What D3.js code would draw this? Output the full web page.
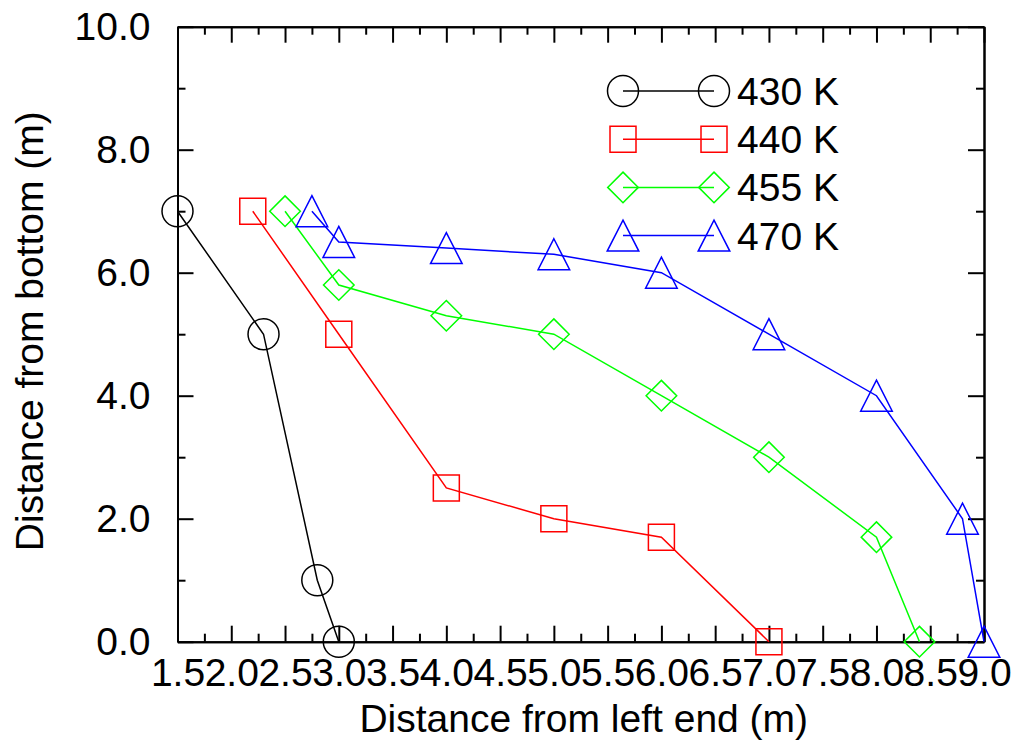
<!DOCTYPE html>
<html>
<head>
<meta charset="utf-8">
<script src="https://cdn.jsdelivr.net/npm/d3@7"></script>
<style>
body { margin: 0; background: #fff; }
text { font-family: "Liberation Sans", Arial, sans-serif; }
</style>
</head>
<body>
<div id="main"></div>
<script>
var ctx = {
    width: 1014,
    height: 745,
    left: 177.5,
    right: 984,
    top: 26.7,
    bottom: 641.7,
    fontSize: 39
};

// series values
var seriesNames = ["430 K", "440 K", "455 K", "470 K"];
var seriesColors = ["#000000", "#ff0000", "#00ff00", "#0000ff"];
var seriesShapes = ["circle", "square", "diamond", "triangle"];
var x430 = [1.5, 2.3, 2.8, 3.0];
var y430 = [7.0, 5.0, 1.0, 0.0];
var x440 = [2.2, 3.0, 4.0, 5.0, 6.0, 7.0];
var y440 = [7.0, 5.0, 2.5, 2.0, 1.7, 0.0];
var x455 = [2.5, 3.0, 4.0, 5.0, 6.0, 7.0, 8.0, 8.4];
var y455 = [7.0, 5.8, 5.3, 5.0, 4.0, 3.0, 1.7, 0.0];
var x470 = [2.75, 3.0, 4.0, 5.0, 6.0, 7.0, 8.0, 8.8, 9.0];
var y470 = [7.0, 6.5, 6.4, 6.3, 6.0, 5.0, 4.0, 2.0, 0.0];

// ticks
var xMajor = [1.5, 2.0, 2.5, 3.0, 3.5, 4.0, 4.5, 5.0, 5.5, 6.0, 6.5, 7.0, 7.5, 8.0, 8.5, 9.0];
var xMinor = [1.75, 2.25, 2.75, 3.25, 3.75, 4.25, 4.75, 5.25, 5.75, 6.25, 6.75, 7.25, 7.75, 8.25, 8.75];
var yMajor = [0, 2, 4, 6, 8, 10];
var yMinor = [1, 3, 5, 7, 9];

var xTitle = "Distance from left end (m)";
var yTitle = "Distance from bottom (m)";

var markerPath = function(shape){
    if (shape == "circle") {
        return "M15.5,0A15.5,15.5 0 1,1 -15.5,0A15.5,15.5 0 1,1 15.5,0Z";
    } else if (shape == "square") {
        return "M-13,-13H13V13H-13Z";
    } else if (shape == "diamond") {
        return "M0,-15.3L15.3,0L0,15.3L-15.3,0Z";
    }
    return "M0,-15.5L15.8,15.5L-15.8,15.5Z";
};

var createViz = function(){
    var svg = d3.select("#main").append("svg")
                .attr("width", ctx.width)
                .attr("height", ctx.height);

    var x = d3.scaleLinear().domain([1.5, 9.0]).range([ctx.left, ctx.right]);
    var y = d3.scaleLinear().domain([0, 10]).range([ctx.bottom, ctx.top]);

    var series = [
        d3.zip(x430, y430),
        d3.zip(x440, y440),
        d3.zip(x455, y455),
        d3.zip(x470, y470)
    ];

    // axes, ticks inside on all four sides
    var addAxis = function(axis, tx, ty, vals, size, labels){
        var g = svg.append("g")
                   .attr("transform", "translate(" + tx + "," + ty + ")")
                   .call(axis.tickValues(vals).tickSizeInner(-size).tickSizeOuter(0));
        g.selectAll("line").attr("stroke", "#000").attr("stroke-width", 2);
        g.select(".domain").attr("stroke", "#000").attr("stroke-width", 2);
        g.selectAll("text").attr("font-size", ctx.fontSize).attr("fill", "#000")
         .style("font-family", "'Liberation Sans', Arial, sans-serif");
        if (!labels) g.selectAll("text").remove();
        return g;
    };

    addAxis(d3.axisBottom(x).tickPadding(17).tickFormat(d3.format(".1f")), 0, ctx.bottom, xMajor, 16, true);
    addAxis(d3.axisBottom(x), 0, ctx.bottom, xMinor, 8, false);
    addAxis(d3.axisTop(x), 0, ctx.top, xMajor, 16, false);
    addAxis(d3.axisTop(x), 0, ctx.top, xMinor, 8, false);
    addAxis(d3.axisLeft(y).tickPadding(27).tickFormat(d3.format(".1f")), ctx.left, 0, yMajor, 16, true);
    addAxis(d3.axisLeft(y), ctx.left, 0, yMinor, 8, false);
    addAxis(d3.axisRight(y), ctx.right, 0, yMajor, 16, false);
    addAxis(d3.axisRight(y), ctx.right, 0, yMinor, 8, false);

    // axis titles
    svg.append("text")
       .attr("x", (ctx.left + ctx.right) / 2 + 3)
       .attr("y", 731.5)
       .attr("text-anchor", "middle")
       .attr("font-size", ctx.fontSize)
       .text(xTitle);
    svg.append("text")
       .attr("transform", "translate(42.7," + ((ctx.top + ctx.bottom) / 2 - 3) + ")rotate(-90)")
       .attr("text-anchor", "middle")
       .attr("font-size", ctx.fontSize)
       .text(yTitle);

    var line = d3.line()
                 .x(function(d){ return x(d[0]); })
                 .y(function(d){ return y(d[1]); });

    // lines + hollow markers
    series.forEach(function(pts, i){
        var g = svg.append("g");
        g.append("path")
         .attr("d", line(pts))
         .attr("fill", "none")
         .attr("stroke", seriesColors[i])
         .attr("stroke-width", 1.5);
        g.selectAll(".mark")
         .data(pts)
         .enter().append("path")
           .attr("class", "mark")
           .attr("transform", function(d){ return "translate(" + x(d[0]) + "," + y(d[1]) + ")"; })
           .attr("d", markerPath(seriesShapes[i]))
           .attr("fill", "none")
           .attr("stroke", seriesColors[i])
           .attr("stroke-width", 1.5);
    });

    // legend
    var legend = svg.append("g");
    seriesNames.forEach(function(name, i){
        var ly = 91 + i * 48.2;
        legend.append("line")
              .attr("x1", 623).attr("x2", 714)
              .attr("y1", ly).attr("y2", ly)
              .attr("stroke", seriesColors[i])
              .attr("stroke-width", 1.5);
        [623, 714].forEach(function(lx){
            legend.append("path")
                  .attr("transform", "translate(" + lx + "," + ly + ")")
                  .attr("d", markerPath(seriesShapes[i]))
                  .attr("fill", "none")
                  .attr("stroke", seriesColors[i])
                  .attr("stroke-width", 1.5);
        });
        legend.append("text")
              .attr("x", 737)
              .attr("y", ly + 14)
              .attr("font-size", ctx.fontSize)
              .text(name);
    });
};

createViz();
</script>
</body>
</html>
